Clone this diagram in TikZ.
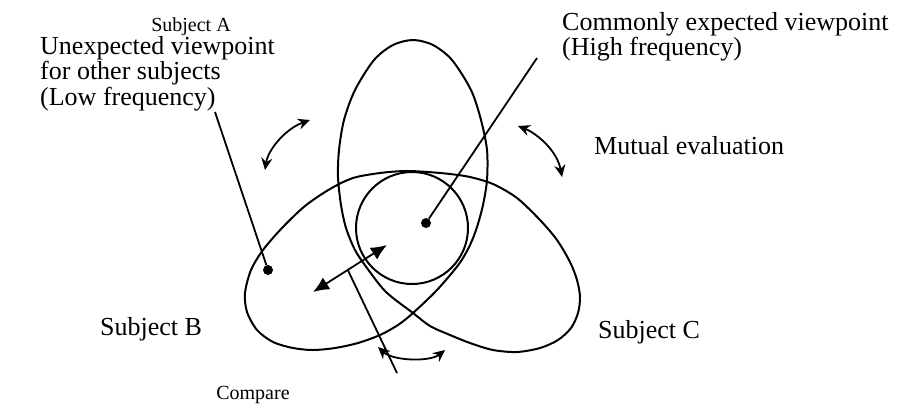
\documentclass[tikz,border=0pt]{standalone}
\usepackage{fontspec}
\setmainfont{Liberation Serif}
\usetikzlibrary{arrows.meta,calc}
\begin{document}
\begin{tikzpicture}[x=1pt,y=-1pt,
  curve/.style={line width=2pt},
  lbl/.style={inner sep=0pt, font=\fontsize{26}{25.5}\selectfont, align=left},
  small/.style={inner sep=0pt, font=\fontsize{20}{22}\selectfont},
  dotnode/.style={circle, fill=black, inner sep=0pt, minimum size=10pt},
  conn/.style={line width=1.8pt},
  dbl/.style={line width=1.8pt, {Latex[length=16pt,width=14pt]}-{Latex[length=16pt,width=14pt]}},
  cur/.style={line width=1.8pt, {Stealth[length=12pt,width=11pt]}-{Stealth[length=12pt,width=11pt]}},
]
\useasboundingbox (0,0) rectangle (899,408);
% trefoil-like curve of the three subjects
\draw[curve] plot[smooth cycle, tension=0.5] coordinates {
 (413,40) (393,45) (374,60) (355,90) (344,120) (339,150) (338,177) (341,205) (346,228)
 (355,250) (367,268) (386,292) (413,313) (430,326) (450,335) (470,343) (493,350) (517,352)
 (540,348) (558,340) (571,328) (578,313) (580,297) (577,280) (570,262) (557,240) (540,220)
 (517,198) (493,184) (470,177) (450,174) (428,172) (405,171) (380,173) (353,178) (330,189)
 (305,206) (282,228) (263,250) (251,270) (245,293) (247,312) (257,330) (273,342) (293,348)
 (313,350) (335,348) (358,343) (380,335) (398,325) (413,313) (437,290) (459,264) (470,245)
 (477,227) (483,205) (487,180) (487,150) (481,120) (471,90) (452,60) (433,45)};
% central circle
\node[draw, circle, line width=2pt, minimum size=112pt, inner sep=0pt] (core) at (412,228) {};
% dots
\node[dotnode] (dc) at (426,223) {};
\node[dotnode] (du) at (268,270) {};
% labels
\node[small, anchor=base] (sa) at (191,31) {Subject A};
\node[lbl, anchor=north west] (unx) at (40,36) {Unexpected viewpoint\\for other subjects\\(Low frequency)};
\node[lbl, anchor=north west] (com) at (562,12) {Commonly expected viewpoint\\(High frequency)};
\node[lbl, anchor=base west] (mut) at (594,154) {Mutual evaluation};
\node[lbl, anchor=base west] (sb) at (100,335) {Subject B};
\node[lbl, anchor=base west] (sc) at (598,338) {Subject C};
\node[small, anchor=base] (cmp) at (253,399) {Compare};
% pointer lines
\coordinate (ue) at (215,112);
\coordinate (ce) at (537,58);
\draw[conn] (ue) -- (du);
\draw[conn] (ce) -- (dc);
% straight double arrow
\coordinate (da) at (313,292);
\coordinate (db) at (387,245);
\draw[dbl] (da) -- (db);
\coordinate (cl) at ($(da)!0.47!(db)$);
\coordinate (cle) at (397,373);
\draw[conn] (cl) -- (cle);
% curved arrows
\coordinate (t1a) at (265,170);
\coordinate (t1b) at (310,120);
\draw[cur] (t1a) .. controls (268,150) and (285,129) .. (t1b);
\coordinate (t2a) at (518,126);
\coordinate (t2b) at (562,177);
\draw[cur] (t2a) .. controls (536,133) and (557,150) .. (t2b);
\coordinate (t3a) at (378,347);
\coordinate (t3b) at (445,350);
\draw[cur] (t3a) .. controls (393,361) and (430,362) .. (t3b);
\end{tikzpicture}
\end{document}
